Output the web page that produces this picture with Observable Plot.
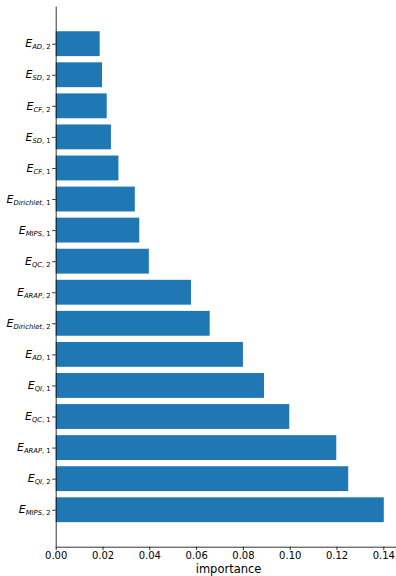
<!DOCTYPE html>
<html><head><meta charset="utf-8">
<script src="https://cdn.jsdelivr.net/npm/d3@7"></script>
<script src="https://cdn.jsdelivr.net/npm/@observablehq/plot@0.6"></script>
<style>body{margin:0;background:#fff;overflow:hidden}</style>
</head><body><div id="chart"></div>
<script>
// Terms listed top to bottom as in the chart
const terms = ["AD","SD","CF","SD","CF","Dirichlet","MIPS","QC","ARAP","Dirichlet","AD","QI","QC","ARAP","QI","MIPS"];
const orders = [2,2,2,1,1,1,1,2,2,2,1,1,1,1,2,2];
const importance = [0.0188,0.0198,0.0218,0.0236,0.0268,0.0338,0.0357,0.0398,0.0578,0.0658,0.0800,0.0890,0.0998,0.1199,0.1250,0.1402];
const xTicks = [0, 0.02, 0.04, 0.06, 0.08, 0.10, 0.12, 0.14];
const xLabel = "importance";

const data = terms.map((t, i) => ({i, term: t, order: orders[i], value: importance[i]}));
const yMin = -1.19, yMax = (terms.length - 1) + 1.19;

const chart = Plot.plot({
  width: 396, height: 576,
  marginLeft: 55.7, marginRight: -4.4, marginTop: 6.7, marginBottom: 29.3,
  style: {fontFamily: "'DejaVu Sans'", fontSize: "10px", color: "#000", background: "#fff"},
  x: {domain: [0, 0.1473]},
  y: {domain: [yMin, yMax], reverse: true},
  marks: [
    Plot.rectX(data, {x: "value", y1: d => d.i - 0.4, y2: d => d.i + 0.4, fill: "#1f77b4"}),
    Plot.ruleX([0], {stroke: "#000", strokeWidth: 0.8}),
    Plot.ruleY([yMax], {stroke: "#000", strokeWidth: 0.8}),
    Plot.axisX({ticks: xTicks, tickFormat: d3.format(".2f"), tickSize: 3.5, tickPadding: 1.5, strokeWidth: 0.8,
      label: xLabel, labelAnchor: "center", labelOffset: 26}),
    Plot.axisY({ticks: data.map(d => d.i), tickFormat: i => `${terms[i]}|${orders[i]}`, tickSize: 3.5, tickPadding: 2, strokeWidth: 0.8, label: null})
  ]
});
document.getElementById("chart").appendChild(chart);

const svg = d3.select(chart);
svg.selectAll('g[aria-label="y-axis tick label"] text').each(function() {
  const [t, o] = this.textContent.split("|");
  const sel = d3.select(this);
  sel.text("");
  sel.append("tspan").attr("font-style", "italic").attr("font-size", 11).text("E");
  sel.append("tspan").attr("font-style", "italic").attr("font-size", 6.8).attr("dy", 2).text(t);
  sel.append("tspan").attr("font-size", 6.8).text(", " + o);
});
svg.selectAll('g[aria-label="x-axis label"] text').attr("font-size", 11.5).text(xLabel);
</script>
</body></html>
